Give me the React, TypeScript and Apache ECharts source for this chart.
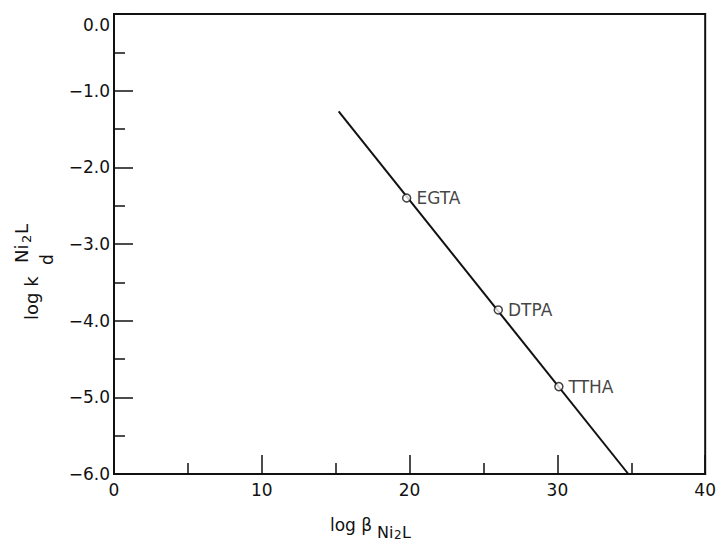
import React, { useEffect, useRef } from "react";
import * as echarts from "echarts";

const pointNames = ["EGTA", "DTPA", "TTHA"];
const pointX = [19.8, 26.0, 30.1];
const pointY = [-2.4, -3.86, -4.86];
const fitX = [15.2, 34.8];
const fitY = [-1.27, -6.0];

const FONT = "DejaVu Sans";
const INK = "#111";

export default function App() {
  const ref = useRef<HTMLDivElement>(null);
  useEffect(() => {
    if (!ref.current) return;
    const chart = echarts.init(ref.current, null, { renderer: "svg" });
    const t = (text: string, x: number, y: number, fs: number) => ({
      type: "text",
      x,
      y,
      style: { text, fontSize: fs, fontFamily: FONT, fill: INK, align: "left", verticalAlign: "middle" },
    });
    chart.setOption({
      animation: false,
      backgroundColor: "#fff",
      grid: {
        left: 114,
        top: 14,
        width: 594,
        height: 460,
        show: true,
        borderColor: INK,
        borderWidth: 2,
        containLabel: false,
      },
      xAxis: {
        type: "value",
        min: 0,
        max: 40,
        interval: 10,
        axisLine: { show: true, onZero: false, lineStyle: { color: INK, width: 2 } },
        axisTick: { show: true, inside: true, length: 19, lineStyle: { color: INK, width: 1.5 } },
        minorTick: { show: true, splitNumber: 2, length: 11, lineStyle: { color: INK, width: 1.5 } },
        splitLine: { show: false },
        axisLabel: { color: INK, fontFamily: FONT, fontSize: 17, margin: 7 },
      },
      yAxis: {
        type: "value",
        min: -6,
        max: 0,
        interval: 1,
        axisLine: { show: true, onZero: false, lineStyle: { color: INK, width: 2 } },
        axisTick: { show: true, inside: true, length: 19, lineStyle: { color: INK, width: 1.5 } },
        minorTick: { show: true, splitNumber: 2, length: 11, lineStyle: { color: INK, width: 1.5 } },
        splitLine: { show: false },
        axisLabel: {
          color: INK,
          fontFamily: FONT,
          fontSize: 17,
          margin: 4,
          formatter: (v: number) => {
            const s = (v < 0 ? "\u2212" : "") + Math.abs(v).toFixed(1);
            return v === 0 ? "{top|" + s + "}" : s;
          },
          rich: { top: { fontFamily: FONT, fontSize: 17, color: INK, padding: [22, 0, 0, 0] } },
        },
      },
      series: [
        {
          type: "line",
          data: fitX.map((x, i) => [x, fitY[i]]),
          symbol: "none",
          lineStyle: { color: INK, width: 2 },
          z: 2,
        },
        {
          type: "scatter",
          data: pointX.map((x, i) => ({ value: [x, pointY[i]], name: pointNames[i] })),
          symbol: "circle",
          symbolSize: 8,
          itemStyle: { color: "#fff", borderColor: INK, borderWidth: 1.5 },
          label: {
            show: true,
            position: "right",
            distance: 5,
            formatter: (p: any) => p.name,
            color: INK,
            fontFamily: FONT,
            fontSize: 17,
          },
          z: 3,
        },
      ],
      graphic: [
        t("log \u03b2", 330, 525, 17),
        t("Ni", 377, 532, 16),
        t("2", 394, 535, 12),
        t("L", 402, 532, 16),
        {
          type: "group",
          x: 37,
          y: 320,
          rotation: Math.PI / 2,
          children: [
            t("log k", 0, -6, 18),
            t("d", 55, 10, 17),
            t("Ni", 57, -16, 18),
            t("2", 77, -11, 13),
            t("L", 86, -16, 18),
          ],
        },
      ],
    });
    return () => chart.dispose();
  }, []);
  return (
    <div
      ref={ref}
      style={{ position: "fixed", left: 0, top: 0, width: 719, height: 543 }}
    />
  );
}
